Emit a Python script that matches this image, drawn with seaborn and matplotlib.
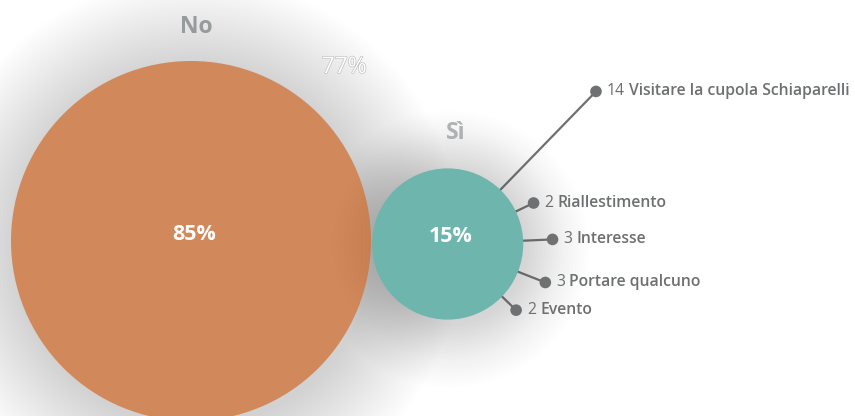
import numpy as np
import matplotlib
matplotlib.use("Agg")
import matplotlib.pyplot as plt
from matplotlib.patches import Circle
import matplotlib.patheffects as pe
import seaborn as sns

# dati
risposte = ["No", "Sì"]
percentuali = [85, 15]
colori = ["#d1885a", "#6db5ad"]
etichetta_extra = "77%"

motivi = ["Visitare la cupola Schiaparelli", "Riallestimento", "Interesse",
          "Portare qualcuno", "Evento"]
conteggi = [14, 2, 3, 3, 2]
angoli = [45.8, 25.5, 2.5, -21.5, -44.0]   # direzione dei raggi (gradi)

sns.set_theme(style="white")
plt.rcParams["font.family"] = ["Open Sans", "DejaVu Sans"]

fig = plt.figure(figsize=(8.55, 4.16), dpi=100)
ax = fig.add_axes([0, 0, 1, 1])
ax.set_xlim(0, 855)
ax.set_ylim(416, 0)
ax.set_aspect("equal")
ax.axis("off")

# raggi proporzionali alla radice della percentuale (area ~ valore)
k = 180 / np.sqrt(85)
raggi = [k * np.sqrt(p) for p in percentuali]
cx_no = 11 + raggi[0]
cy = 241
cx_si = cx_no + raggi[0] + 1 + raggi[1]
centri = [(cx_no, cy), (cx_si, cy + 3)]

# ombra morbida
for (cx, cyy), r, n in zip(centri, raggi, [45, 32]):
    for i in range(n):
        ax.add_patch(Circle((cx + 3, cyy + 5), r + 1 + i * 2.0, color="black",
                            alpha=0.0021, lw=0, zorder=1))

# cerchio grande
ax.add_patch(Circle(centri[0], raggi[0], color=colori[0], lw=0, zorder=3))

# ombra del cerchio piccolo sul grande
for i in range(10):
    ax.add_patch(Circle(centri[1], raggi[1] + 3 + i * 4, color="black",
                        alpha=0.0035, lw=0, zorder=3.5))
ax.add_patch(Circle(centri[1], raggi[1], color=colori[1], lw=0, zorder=4))

for (cx, cyy), p in zip(centri, percentuali):
    ax.text(cx + 3, cyy - 7, f"{p}%", color="white", fontsize=15.5,
            fontweight="bold", ha="center", va="center", zorder=6)

# titoli dei cerchi
ax.text(cx_no + 5, 27, risposte[0], color="#979b9b", fontsize=16.5,
        fontweight="bold", ha="center", va="center")
ax.text(cx_si + 8, 133, risposte[1], color="#b0b3b3", fontsize=16.5,
        fontweight="bold", ha="center", va="center")
ax.text(344, 67, etichetta_extra, color="white", fontsize=16.5, ha="center",
        va="center", zorder=6,
        path_effects=[pe.Stroke(linewidth=0.9, foreground="#bdbdbd"), pe.Normal()])

# raggi con i motivi
sx, sy = centri[1]
r_si = raggi[1]
xs, ys = [], []
for cnt, ang in zip(conteggi, angoli):
    d = r_si + 9.8 * cnt
    a = np.deg2rad(ang)
    xs.append(sx + d * np.cos(a))
    ys.append(sy - d * np.sin(a))

for x, y in zip(xs, ys):
    ax.plot([sx, x], [sy, y], color="#6e7071", lw=1.6, zorder=2.5,
            solid_capstyle="round")
sns.scatterplot(x=xs, y=ys, ax=ax, s=70, color="#6e7071", edgecolor="none",
                zorder=5, legend=False)

for x, y, cnt, lab in zip(xs, ys, conteggi, motivi):
    t = ax.text(x + 11, y, str(cnt), color="#6d6f70", fontsize=11.3,
                ha="left", va="center", zorder=6)
    ax.annotate(lab, xy=(1, 0.5), xycoords=t, xytext=(3, 0),
                textcoords="offset points", ha="left", va="center",
                color="#6d6f70", fontsize=11.3, fontweight="semibold", zorder=6)

fig.savefig("out.png", dpi=100)
